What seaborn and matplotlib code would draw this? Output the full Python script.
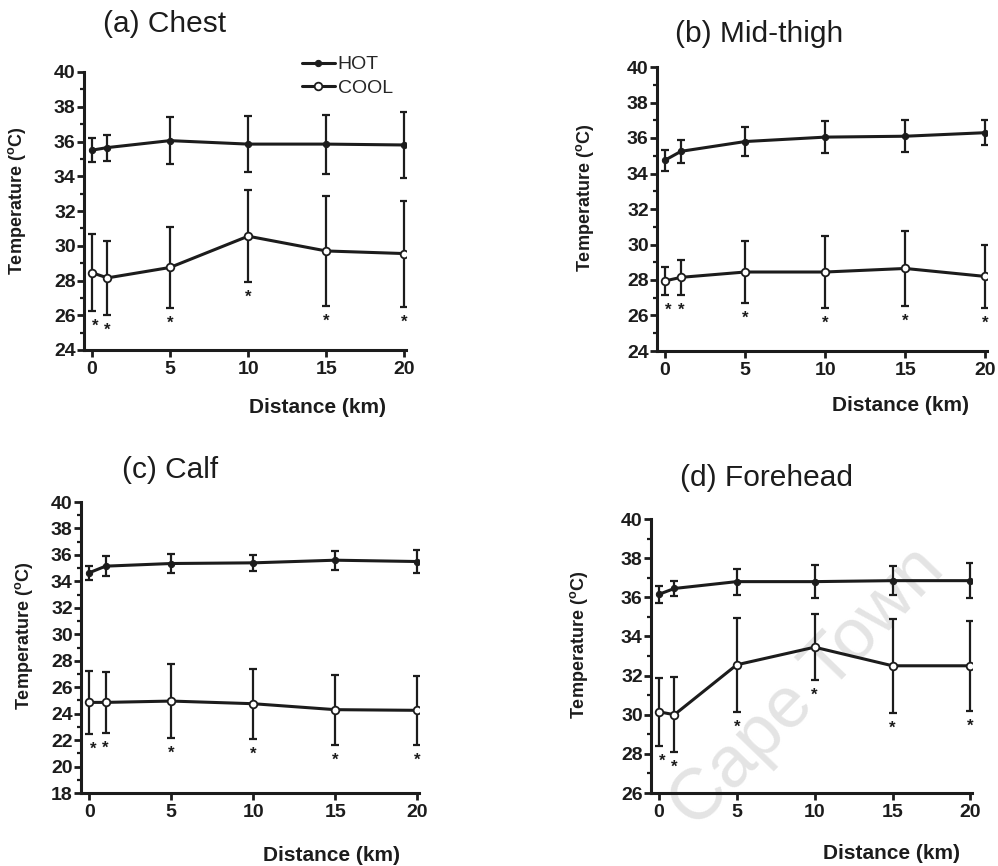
import matplotlib
matplotlib.use("Agg")
import matplotlib.pyplot as plt
import seaborn as sns
import pandas as pd
from matplotlib.ticker import MultipleLocator

# ---------------- data ----------------
distance = [0, 1, 5, 10, 15, 20]
series_labels = ["HOT", "COOL"]

chest_hot = [35.5, 35.65, 36.05, 35.85, 35.85, 35.8]
chest_hot_sd = [0.7, 0.75, 1.35, 1.6, 1.7, 1.9]
chest_cool = [28.45, 28.15, 28.75, 30.55, 29.7, 29.55]
chest_cool_sd = [2.2, 2.15, 2.35, 2.65, 3.15, 3.05]

thigh_hot = [34.75, 35.25, 35.8, 36.05, 36.1, 36.3]
thigh_hot_sd = [0.6, 0.65, 0.8, 0.9, 0.9, 0.72]
thigh_cool = [27.95, 28.15, 28.45, 28.45, 28.65, 28.2]
thigh_cool_sd = [0.8, 1.0, 1.75, 2.05, 2.1, 1.8]

calf_hot = [34.65, 35.15, 35.35, 35.4, 35.6, 35.5]
calf_hot_sd = [0.53, 0.78, 0.7, 0.63, 0.73, 0.9]
calf_cool = [24.85, 24.85, 24.95, 24.75, 24.3, 24.25]
calf_cool_sd = [2.4, 2.33, 2.8, 2.65, 2.65, 2.6]

fore_hot = [36.15, 36.45, 36.8, 36.8, 36.85, 36.85]
fore_hot_sd = [0.44, 0.36, 0.66, 0.83, 0.75, 0.9]
fore_cool = [30.15, 30.0, 32.55, 33.45, 32.5, 32.5]
fore_cool_sd = [1.75, 1.93, 2.4, 1.7, 2.4, 2.3]

titles = ["(a) Chest", "(b) Mid-thigh", "(c) Calf", "(d) Forehead"]
y_limits = [(24, 40), (24, 40), (18, 40), (26, 40)]
x_ticks = [0, 5, 10, 15, 20]

panels = [
    (chest_hot, chest_hot_sd, chest_cool, chest_cool_sd),
    (thigh_hot, thigh_hot_sd, thigh_cool, thigh_cool_sd),
    (calf_hot, calf_hot_sd, calf_cool, calf_cool_sd),
    (fore_hot, fore_hot_sd, fore_cool, fore_cool_sd),
]

# ---------------- style ----------------
sns.set_style("ticks")
plt.rcParams["font.family"] = ["Liberation Sans", "DejaVu Sans"]
plt.rcParams["mathtext.fontset"] = "custom"
plt.rcParams["mathtext.rm"] = "Liberation Sans:bold"
plt.rcParams["mathtext.bf"] = "Liberation Sans:bold"

W, H = 998, 866
fig = plt.figure(figsize=(W / 100, H / 100), dpi=100)
fig.patch.set_facecolor("white")

# axes boxes in pixels: (left, top, right, bottom)
boxes = [(84, 72, 406, 350), (657, 67, 987, 351), (81, 502, 419, 793), (651, 519, 972, 793)]
title_pos = [(165, 24), (759, 34), (170, 470), (766, 478)]
xlabel_coords = [(0.724, -0.172), (0.738, -0.16), (0.74, -0.183), (0.75, -0.186)]
ylabel_coords = [(-0.174, 0.535), (-0.185, 0.54), (-0.136, 0.54), (-0.19, 0.54)]

ink = "#1c1c1c"
axes = []
for i, (panel, box) in enumerate(zip(panels, boxes)):
    l, t, r, b = box
    ax = fig.add_axes([l / W, 1 - b / H, (r - l) / W, (b - t) / H])
    ax.set_facecolor("none")
    hot, hot_sd, cool, cool_sd = panel
    df = pd.DataFrame({"Distance": distance * 2,
                       "Temp": list(hot) + list(cool),
                       "Group": [series_labels[0]] * 6 + [series_labels[1]] * 6})
    ax.errorbar(distance, hot, yerr=hot_sd, fmt="none", ecolor=ink,
                elinewidth=1.6, capsize=3.2, capthick=1.6, zorder=2)
    ax.errorbar(distance, cool, yerr=cool_sd, fmt="none", ecolor=ink,
                elinewidth=1.6, capsize=3.2, capthick=1.6, zorder=2)
    sns.lineplot(data=df[df.Group == "HOT"], x="Distance", y="Temp", ax=ax,
                 color=ink, lw=2.2, marker="o", markersize=4.5,
                 markerfacecolor=ink, markeredgecolor=ink, label="HOT", zorder=3,
                 legend=False)
    sns.lineplot(data=df[df.Group == "COOL"], x="Distance", y="Temp", ax=ax,
                 color=ink, lw=2.2, marker="o", markersize=5.5,
                 markerfacecolor="white", markeredgecolor=ink, markeredgewidth=1.3,
                 label="COOL", zorder=3, legend=False)
    # significance asterisks below the COOL error bars
    for k, (x, m, s) in enumerate(zip(distance, cool, cool_sd)):
        dx = 2.5 if k == 0 else 0
        ax.annotate("*", xy=(x, m - s), xytext=(dx, -11), textcoords="offset points",
                    ha="center", va="center", fontsize=12, fontweight="bold",
                    color=ink, annotation_clip=False)

    ax.set_xlim(-0.5, 20.1)
    ax.set_ylim(*y_limits[i])
    ax.set_xticks(x_ticks)
    ax.yaxis.set_major_locator(MultipleLocator(2))
    ax.yaxis.set_minor_locator(MultipleLocator(1))
    for side in ("top", "right"):
        ax.spines[side].set_visible(False)
    for side in ("left", "bottom"):
        ax.spines[side].set_linewidth(2.2)
        ax.spines[side].set_color(ink)
    ax.tick_params(axis="both", which="major", direction="out", length=5, width=2,
                   labelsize=14, colors=ink)
    ax.tick_params(axis="y", which="major", pad=1)
    ax.tick_params(axis="x", which="major", pad=3)
    ax.tick_params(axis="y", which="minor", direction="out", length=3, width=1.6, colors=ink)
    for lab in ax.get_xticklabels() + ax.get_yticklabels():
        lab.set_fontweight("bold")
    ax.set_xlabel("Distance (km)", fontsize=15, fontweight="bold", color=ink)
    ax.xaxis.set_label_coords(*xlabel_coords[i])
    ax.set_ylabel(r"Temperature ($^{\rm o}$C)", fontsize=13, fontweight="bold", color=ink)
    ax.yaxis.set_label_coords(*ylabel_coords[i])
    tx, ty = title_pos[i]
    fig.text(tx / W, 1 - ty / H, titles[i], fontsize=21.5, ha="center", va="center", color=ink)
    axes.append(ax)

# legend for panel (a)
axes[0].legend(loc="upper left", bbox_to_anchor=(292 / W, 1 - 46 / H),
               bbox_transform=fig.transFigure, frameon=False, borderpad=0,
               handlelength=1.7, handletextpad=0.15, labelspacing=0.3,
               prop={"size": 14})

# faint watermark
fig.text(808 / W, 1 - 688 / H, "Cape Town", fontsize=52, rotation=46,
         ha="center", va="center", color="#e4e4e4", zorder=-10)

fig.savefig("out.png", dpi=100, facecolor="white")
